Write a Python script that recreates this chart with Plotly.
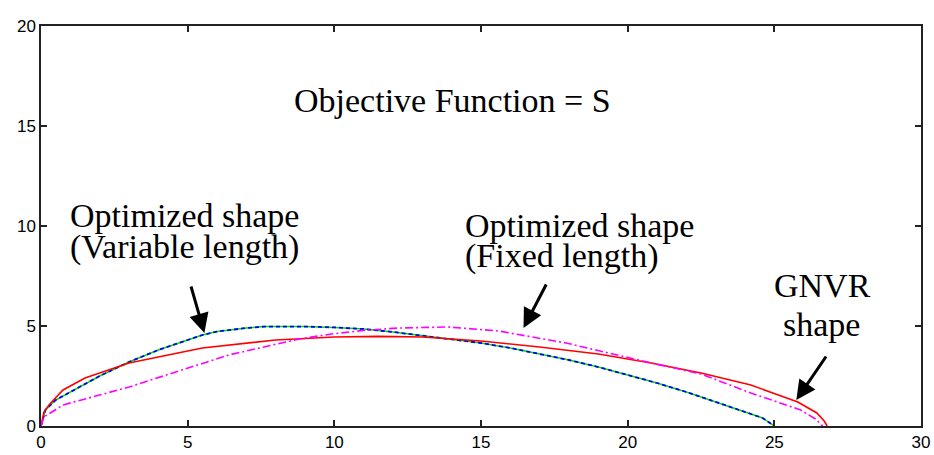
import plotly.graph_objects as go

# Optimized shape (variable length) - blue dashed over green
var_x = [0, 0.15, 0.5, 1, 2, 3, 4, 5, 5.5, 6, 7, 7.6, 8, 9, 10, 11, 12, 13, 14, 15, 16, 17, 18, 19, 20, 21, 22, 22.5, 23, 24, 24.6, 25]
var_y = [0, 0.8, 1.3, 1.7, 2.5, 3.2, 3.8, 4.3, 4.55, 4.72, 4.9, 4.97, 4.98, 4.97, 4.93, 4.85, 4.7, 4.52, 4.33, 4.15, 3.9, 3.6, 3.3, 2.95, 2.55, 2.15, 1.7, 1.45, 1.2, 0.7, 0.4, 0]

# GNVR shape - red solid
gnvr_x = [0, 0.1, 0.3, 0.75, 1.5, 3, 5.5, 8, 10, 11.5, 13, 15, 17, 19, 20.8, 22.5, 24.2, 25.8, 26.45, 26.7, 26.8]
gnvr_y = [0, 0.7, 1.1, 1.8, 2.4, 3.15, 3.9, 4.3, 4.45, 4.48, 4.45, 4.25, 3.95, 3.6, 3.15, 2.65, 2.05, 1.2, 0.65, 0.25, 0]

# Optimized shape (fixed length) - magenta dash-dot
fix_x = [0, 0.1, 0.75, 3, 6.4, 8.8, 9.9, 11, 12.2, 13.9, 15.6, 17.9, 20.8, 22.5, 24.2, 25.9, 26.4, 26.65]
fix_y = [0, 0.45, 1.05, 1.95, 3.55, 4.35, 4.6, 4.78, 4.9, 4.95, 4.75, 4.15, 3.15, 2.6, 1.65, 0.8, 0.35, 0]

x_ticks = [0, 5, 10, 15, 20, 25, 30]
y_ticks = [0, 5, 10, 15, 20]

fig = go.Figure()
fig.add_trace(go.Scatter(x=var_x, y=var_y, mode="lines", line=dict(color="#00dd00", width=1.5), showlegend=False))
fig.add_trace(go.Scatter(x=var_x, y=var_y, mode="lines", line=dict(color="#0000ff", width=1.8, dash="4px,3px"), showlegend=False))
fig.add_trace(go.Scatter(x=gnvr_x, y=gnvr_y, mode="lines", line=dict(color="#ff0000", width=1.6), showlegend=False))
fig.add_trace(go.Scatter(x=fix_x, y=fix_y, mode="lines", line=dict(color="#ff00ff", width=1.6, dash="8px,3px,2px,3px"), showlegend=False))

serif = dict(family="Liberation Serif, Times New Roman, serif", size=34, color="black")

# (text, x, y, xanchor)
texts = [
    ("Objective Function = S", 14.03, 16.29, "center"),
    ("Optimized shape", 0.92, 10.52, "left"),
    ("(Variable length)", 0.92, 8.97, "left"),
    ("Optimized shape", 14.39, 10.02, "left"),
    ("(Fixed length)", 14.39, 8.52, "left"),
    ("GNVR", 26.64, 7.02, "center"),
    ("shape", 26.61, 5.07, "center"),
]
for t, x, y, xa in texts:
    fig.add_annotation(x=x, y=y, text=t, showarrow=False, font=serif, xanchor=xa, yanchor="middle")

arrows = [
    (5.1, 7.05, 5.57, 4.65),
    (17.25, 7.15, 16.45, 4.9),
    (26.8, 3.55, 25.75, 1.3),
]
for ax_, ay_, x, y in arrows:
    fig.add_annotation(x=x, y=y, ax=ax_, ay=ay_, xref="x", yref="y", axref="x", ayref="y",
                       text="", showarrow=True, arrowhead=2, arrowsize=1.3, arrowwidth=3, arrowcolor="black")

axis_common = dict(showgrid=False, zeroline=False, showline=True, linecolor="#222", linewidth=1.5,
                   mirror="ticks", ticks="inside", ticklen=6, tickcolor="#222", tickwidth=1.5,
                   automargin=False,
                   tickfont=dict(family="Liberation Sans, Arial, sans-serif", size=17, color="black"))
fig.update_xaxes(range=[0, 30], tickvals=x_ticks, **axis_common)
fig.update_yaxes(range=[0, 20], tickvals=y_ticks, **axis_common)

fig.update_layout(width=934, height=455, margin=dict(l=41, r=13, t=26, b=29),
                  plot_bgcolor="white", paper_bgcolor="white")

fig.write_html("out.html")
